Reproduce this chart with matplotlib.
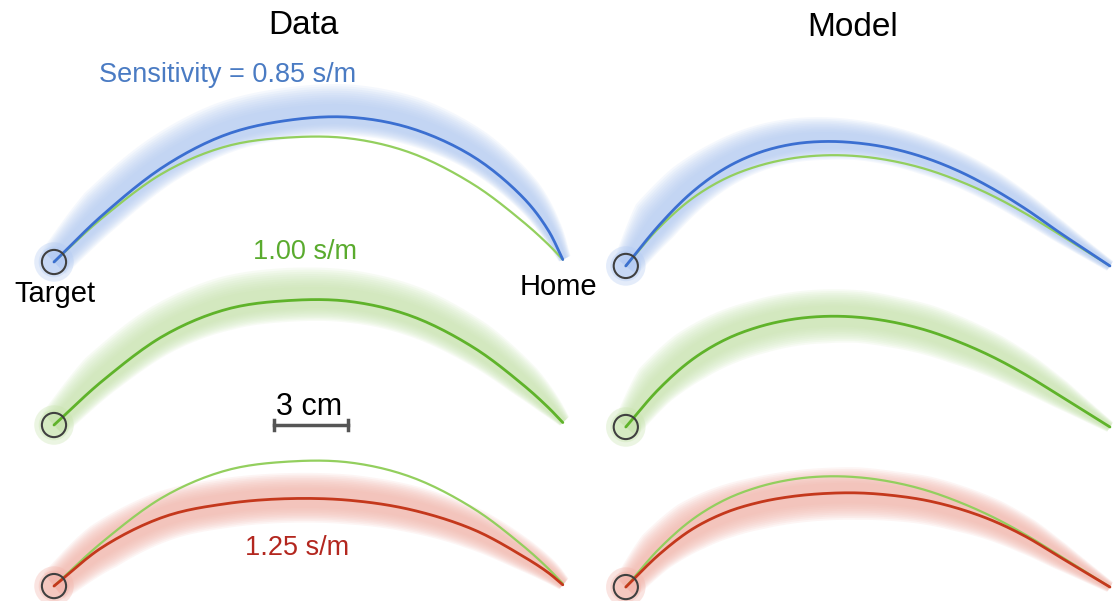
import numpy as np
import matplotlib
matplotlib.use("Agg")
from matplotlib import pyplot as plt
from matplotlib.patches import Circle

plt.rcParams['font.family'] = ['Liberation Sans', 'DejaVu Sans']

# ---- mean hand paths, cm, relative to the target (x right, y up) ----
data_x = [0, 2, 4.5, 7, 9.5, 12, 14.5, 17, 19, 20, 20.6]
# Data: 0.85 s/m (blue)
data_y_085 = [0, 1.93, 3.9, 5.17, 5.74, 5.86, 5.40, 4.25, 2.6, 1.3, 0.1]
data_up_085 = [0.6, 1.0, 1.1, 1.15, 1.15, 1.15, 1.1, 0.95, 0.75, 0.5, 0.3]
data_lo_085 = [0.6, 0.65, 0.65, 0.65, 0.65, 0.65, 0.6, 0.5, 0.4, 0.3, 0.15]
# Data: 1.00 s/m (green, also drawn as reference in the other rows)
data_y_100 = [0, 1.82, 3.65, 4.69, 5.04, 5.0, 4.40, 3.13, 1.62, 0.72, 0.1]
data_up_100 = [0.6, 1.0, 1.1, 1.15, 1.15, 1.1, 1.05, 0.95, 0.75, 0.5, 0.3]
data_lo_100 = [0.5, 0.55, 0.65, 0.75, 0.75, 0.75, 0.7, 0.6, 0.45, 0.3, 0.15]
# Data: 1.25 s/m (red)
data_y_125 = [0, 1.6, 2.82, 3.34, 3.54, 3.47, 3.08, 2.28, 1.2, 0.55, 0.05]
data_up_125 = [0.6, 0.85, 0.9, 0.9, 0.9, 0.9, 0.85, 0.75, 0.6, 0.45, 0.3]
data_lo_125 = [0.6, 0.85, 0.85, 0.85, 0.85, 0.85, 0.8, 0.7, 0.5, 0.35, 0.2]

model_x = [0, 1.35, 2.7, 4.05, 5.4, 6.75, 8.1, 9.45, 10.8, 12.15, 13.5, 14.85, 16.2, 17.55, 19.6]
# Model: 0.85 s/m
model_y_085 = [0, 1.65, 3.0, 3.97, 4.59, 4.93, 5.04, 4.97, 4.75, 4.37, 3.83, 3.13, 2.30, 1.36, 0]
model_up_085 = [0.5, 1.1, 1.1, 1.0, 0.95, 0.9, 0.85, 0.8, 0.75, 0.7, 0.65, 0.6, 0.5, 0.4, 0.2]
model_lo_085 = [0.5, 0.65, 0.65, 0.65, 0.65, 0.65, 0.65, 0.6, 0.6, 0.6, 0.55, 0.5, 0.45, 0.35, 0.2]
# Model: 1.00 s/m
model_y_100 = [0, 1.55, 2.74, 3.55, 4.06, 4.36, 4.48, 4.44, 4.25, 3.92, 3.44, 2.84, 2.11, 1.28, 0]
model_up_100 = [0.5, 1.0, 1.05, 1.0, 0.95, 0.95, 0.95, 0.95, 0.9, 0.9, 0.85, 0.8, 0.7, 0.55, 0.2]
model_lo_100 = [0.5, 0.6, 0.8, 0.9, 0.95, 0.95, 0.95, 0.9, 0.9, 0.85, 0.8, 0.7, 0.6, 0.45, 0.2]
# Model: 1.25 s/m
model_y_125 = [0, 1.32, 2.35, 3.02, 3.43, 3.67, 3.79, 3.81, 3.71, 3.51, 3.17, 2.69, 2.04, 1.23, 0]
model_up_125 = [0.5, 0.9, 1.0, 0.95, 0.9, 0.9, 0.9, 0.9, 0.85, 0.85, 0.8, 0.75, 0.65, 0.5, 0.2]
model_lo_125 = [0.5, 0.6, 0.8, 0.9, 0.95, 0.95, 0.95, 0.95, 0.9, 0.85, 0.8, 0.7, 0.6, 0.45, 0.2]

labels = ['Sensitivity = 0.85 s/m', '1.00 s/m', '1.25 s/m']
scale_bar_cm = 3

# colours
line_col = {'085': '#3b6fd1', '100': '#5fb32a', '125': '#c4381c'}
band_col = {'085': '#b3cbf3', '100': '#c8e4ae', '125': '#f3b4aa'}
text_col = {'085': '#4a7bc3', '100': '#5aab2e', '125': '#b3271f'}
ref_col = '#93cf5e'

PX = 24.7  # pixels per cm in the picture
W, H = 1117, 601

fig = plt.figure(figsize=(W / 100, H / 100), dpi=100)
ax = fig.add_axes([0, 0, 1, 1])
ax.set_xlim(-54 / PX, (W - 54) / PX)
ax.set_ylim((262 - H) / PX, 262 / PX)
ax.axis('off')

# panel origins (target positions), cm
col_x = [0, 23.15]
row_y = [[0, -6.60, -13.12], [-0.16, -6.68, -13.16]]


def smooth(xs, ys, extra=(), n=14):
    # centripetal Catmull-Rom through the read points, for drawing only
    p = np.column_stack([xs, ys]).astype(float)
    ex = [np.asarray(e, float) for e in extra]
    p = np.vstack([2 * p[0] - p[1], p, 2 * p[-1] - p[-2]])
    outx, outy, oute = [], [], [[] for _ in ex]
    for i in range(1, len(p) - 2):
        p0, p1, p2, p3 = p[i - 1], p[i], p[i + 1], p[i + 2]
        t0 = 0.0
        t1 = t0 + np.linalg.norm(p1 - p0) ** 0.5
        t2 = t1 + np.linalg.norm(p2 - p1) ** 0.5
        t3 = t2 + np.linalg.norm(p3 - p2) ** 0.5
        last = i == len(p) - 3
        t = np.linspace(t1, t2, n + 1 if last else n, endpoint=last)[:, None]
        a1 = (t1 - t) / (t1 - t0) * p0 + (t - t0) / (t1 - t0) * p1
        a2 = (t2 - t) / (t2 - t1) * p1 + (t - t1) / (t2 - t1) * p2
        a3 = (t3 - t) / (t3 - t2) * p2 + (t - t2) / (t3 - t2) * p3
        b1 = (t2 - t) / (t2 - t0) * a1 + (t - t0) / (t2 - t0) * a2
        b2 = (t3 - t) / (t3 - t1) * a2 + (t - t1) / (t3 - t1) * a3
        c = (t2 - t) / (t2 - t1) * b1 + (t - t1) / (t2 - t1) * b2
        outx.append(c[:, 0])
        outy.append(c[:, 1])
        u = ((t - t1) / (t2 - t1))[:, 0]
        for k, e in enumerate(ex):
            oute[k].append(e[i - 1] * (1 - u) + e[i] * u)
    return (np.concatenate(outx), np.concatenate(outy),
            [np.concatenate(o) for o in oute])


def draw_band(x, y, up, lo, color):
    dx = np.gradient(x)
    dy = np.gradient(y)
    nn = np.hypot(dx, dy)
    nx, ny = -dy / nn, dx / nn
    for f in np.linspace(1.15, 0.45, 10):
        ux, uy = x + nx * up * f, y + ny * up * f
        lx, ly = x - nx * lo * f, y - ny * lo * f
        ax.fill(np.r_[ux, lx[::-1]], np.r_[uy, ly[::-1]], color=color,
                alpha=0.13, lw=0, zorder=1)


def draw_target(ox, oy, color):
    for rr in [0.8, 0.62, 0.45]:
        ax.add_patch(Circle((ox, oy), rr, facecolor=color, edgecolor='none',
                            alpha=0.35, zorder=2))
    ax.add_patch(Circle((ox, oy), 0.49, facecolor='none', edgecolor='#404040',
                        lw=1.5, zorder=5))


panels = [
    [(data_x, data_y_085, data_up_085, data_lo_085, '085'),
     (data_x, data_y_100, data_up_100, data_lo_100, '100'),
     (data_x, data_y_125, data_up_125, data_lo_125, '125')],
    [(model_x, model_y_085, model_up_085, model_lo_085, '085'),
     (model_x, model_y_100, model_up_100, model_lo_100, '100'),
     (model_x, model_y_125, model_up_125, model_lo_125, '125')],
]
refs = [(data_x, data_y_100), (model_x, model_y_100)]

for c in range(2):
    for r in range(3):
        ox, oy = col_x[c], row_y[c][r]
        xs, ys, up, lo, key = panels[c][r]
        sx, sy, (sup, slo) = smooth(np.asarray(xs) + ox, np.asarray(ys) + oy, (up, lo))
        draw_band(sx, sy, sup, slo, band_col[key])
        draw_target(ox, oy, band_col[key])
        if key != '100':
            rx, ry = refs[c]
            qx, qy, _ = smooth(np.asarray(rx) + ox, np.asarray(ry) + oy)
            ax.plot(qx, qy, color=ref_col, lw=1.6, zorder=3,
                    solid_capstyle='round')
        ax.plot(sx, sy, color=line_col[key], lw=2.0, zorder=4,
                solid_capstyle='round')

# scale bar
bx0 = (274 - 54) / PX
by = row_y[0][1]
ax.plot([bx0, bx0 + scale_bar_cm], [by, by], color='#555555', lw=2.5, zorder=5)
for bx in [bx0, bx0 + scale_bar_cm]:
    ax.plot([bx, bx], [by - 0.2, by + 0.2], color='#555555', lw=2.5, zorder=5)


def ftext(px, py, s, **kw):
    fig.text(px / W, 1 - py / H, s, ha='center', va='center', **kw)


ftext(303, 25, 'Data', fontsize=24, color='black')
ftext(853, 28, 'Model', fontsize=24, color='black')
ftext(228, 75, labels[0], fontsize=19.5, color=text_col['085'])
ftext(305, 252, labels[1], fontsize=19.5, color=text_col['100'])
ftext(297, 548, labels[2], fontsize=19.5, color=text_col['125'])
ftext(55, 294, 'Target', fontsize=21, color='black')
ftext(558, 287, 'Home', fontsize=21, color='black')
ftext(309, 407, '%d cm' % scale_bar_cm, fontsize=22, color='black')

fig.savefig('out.png', dpi=100)
